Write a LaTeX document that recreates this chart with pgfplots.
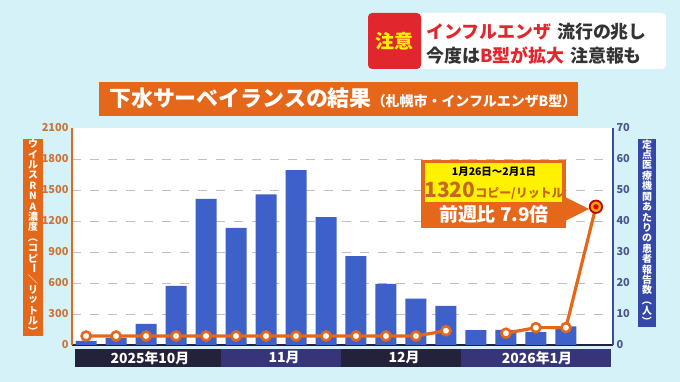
\documentclass[border=0pt]{standalone}
\usepackage{fontspec}
\setmainfont{Noto Sans CJK JP}
\usepackage{graphicx}
\usepackage{pgfplots}
\pgfplotsset{compat=1.18}
\definecolor{bg}{HTML}{D6F2F9}
\definecolor{barblue}{HTML}{3E61C9}
\definecolor{ora}{HTML}{E5671A}
\definecolor{oratick}{HTML}{CC7436}
\definecolor{navy}{HTML}{3A4A9E}
\definecolor{navytick}{HTML}{4D5590}
\definecolor{banddark}{HTML}{22223A}
\definecolor{bandpur}{HTML}{36357A}
\definecolor{hred}{HTML}{E2262D}
\definecolor{hyel}{HTML}{FFF100}
\definecolor{cyel}{HTML}{FFF200}
\definecolor{cbrown}{HTML}{C8651E}
\definecolor{navylab}{HTML}{3548A8}
\newcommand\vc[1]{\hbox to 16bp{\hss\vbox to 10.4bp{\vss\hbox{#1}\vss}\hss}}
\newcommand\rc[1]{\rotatebox[origin=c]{-90}{#1}}
\begin{document}
\begin{tikzpicture}
\fill[bg] (0,0) rectangle (680bp,382bp);
% header
\fill[white, rounded corners=4bp] (368bp,313bp) rectangle (666bp,369bp);
\fill[hred, rounded corners=4bp] (368bp,313bp) rectangle (421bp,369bp);
\node[text=hyel, font=\bfseries\fontsize{19}{19}\selectfont, inner sep=0] at (394.5bp,341bp) {注意};
\node[anchor=base west, font=\bfseries\fontsize{18}{18}\selectfont, inner sep=0] at (426bp,343bp) {\textcolor{hred}{インフルエンザ}\hspace{6bp}\textcolor{black!80}{流行の兆し}};
\node[anchor=base west, font=\bfseries\fontsize{18}{18}\selectfont, inner sep=0] at (426bp,319bp) {\textcolor{black!80}{今度は}\textcolor{hred}{B型が拡大}\hspace{6bp}\textcolor{black!80}{注意報も}};
% title
\fill[ora] (99bp,266bp) rectangle (578bp,300bp);
\node[anchor=base west, text=white, font=\bfseries, inner sep=0] at (109bp,275bp) {\fontsize{22}{22}\selectfont 下水サーベイランスの結果\fontsize{14}{14}\selectfont （札幌市・インフルエンザB型）};
% y labels
\fill[ora] (23bp,46bp) rectangle (43bp,243bp);
\node[text=white, font=\bfseries\fontsize{10}{10}\selectfont, inner sep=0] at (33bp,144.5bp) {\vbox{\offinterlineskip
\vc{ウ}\vc{イ}\vc{ル}\vc{ス}\vc{R}\vc{N}\vc{A}\vc{濃}\vc{度}\vc{\rc{（}}\vc{コ}\vc{ピ}\vc{\rc{ー}}\vc{\rc{／}}\vc{リ}\vc{ッ}\vc{ト}\vc{ル}\vc{\rc{）}}}};
\fill[navylab] (638bp,55bp) rectangle (656bp,243bp);
\node[text=white, font=\bfseries\fontsize{10}{10}\selectfont, inner sep=0] at (647bp,149bp) {\vbox{\offinterlineskip
\vc{定}\vc{点}\vc{医}\vc{療}\vc{機}\vc{関}\vc{あ}\vc{た}\vc{り}\vc{の}\vc{患}\vc{者}\vc{報}\vc{告}\vc{数}\vc{\rc{（}}\vc{人}\vc{\rc{）}}}};
% month band
\fill[banddark] (75bp,15bp) rectangle (221bp,33bp);
\fill[bandpur] (221bp,15bp) rectangle (341bp,33bp);
\fill[banddark] (341bp,15bp) rectangle (461bp,33bp);
\fill[bandpur] (461bp,15bp) rectangle (611bp,33bp);
\foreach \xx/\tt in {150/2025年10月, 284/11月, 404/12月, 537/2026年1月}
  \node[text=white, font=\bfseries\fontsize{14}{14}\selectfont, inner sep=0] at (\xx bp,24bp) {\tt};
\begin{axis}[
  at={(72bp,37bp)}, anchor=south west, scale only axis,
  width=541bp, height=217bp,
  xmin=-0.47, xmax=17.57, ymin=0, ymax=2100,
  axis background/.style={fill=white},
  axis x line*=bottom, axis y line*=left,
  x axis line style={draw=banddark, line width=2bp, -},
  y axis line style={draw=ora, line width=2.5bp, -},
  xtick=\empty,
  ytick={300,600,...,1800},
  extra y ticks={0,2100},
  extra y tick style={grid=none},
  tick style={draw=none},
  ymajorgrids,
  grid style={draw=gray!50, dash pattern=on 9bp off 9bp, line width=0.9bp},
  yticklabel style={text=oratick, font=\bfseries\fontsize{11}{11}\selectfont},
  /pgf/number format/assume math mode=true,
  /pgf/number format/1000 sep={},
]
\addplot[ybar, bar width=21bp, fill=barblue, draw=none] coordinates {
(0,40)(1,70)(2,205)(3,573)(4,1413)(5,1133)(6,1458)(7,1692)(8,1237)
(9,859)(10,592)(11,449)(12,378)(13,143)(14,146)(15,125)(16,180)};
\end{axis}
\begin{axis}[
  at={(72bp,37bp)}, anchor=south west, scale only axis,
  width=541bp, height=217bp,
  xmin=-0.47, xmax=17.57, ymin=0, ymax=70,
  axis y line*=right, axis x line=none,
  y axis line style={draw=navy, line width=2.5bp, -},
  ytick={0,10,...,70},
  tick style={draw=none},
  yticklabel style={text=navytick, font=\bfseries\fontsize{11}{11}\selectfont},
  /pgf/number format/assume math mode=true,
  clip=false,
]
\addplot[ora, line width=3.2bp, mark=*, mark size=4.5bp, unbounded coords=jump,
  mark options={fill=white, draw=ora, line width=2.6bp}] coordinates {
(0,2.9)(1,2.9)(2,2.9)(3,2.9)(4,2.9)(5,2.9)(6,2.9)(7,2.9)(8,2.9)(9,2.9)(10,2.9)(11,2.9)(12,4.6)
(13,nan)(14,3.8)(15,5.6)(16,5.6)(17,44.6)};
\addplot[only marks, mark=*, mark size=6.2bp, mark options={fill=orange!70!yellow, draw=red!75!black, line width=1.8bp}] coordinates {(17,44.6)};
\addplot[only marks, mark=*, mark size=2.4bp, mark options={fill=red!85!black, draw=red!85!black}] coordinates {(17,44.6)};
\end{axis}
% callout
\fill[ora] (421bp,154bp) rectangle (566bp,222bp);
\fill[ora] (565bp,185bp) -- (589bp,173bp) -- (565bp,161bp) -- cycle;
\fill[cyel] (425bp,180bp) rectangle (562bp,219bp);
\node[font=\bfseries\fontsize{10.5}{10.5}\selectfont, inner sep=0] at (494bp,210bp) {1月26日～2月1日};
\node[anchor=base, text=cbrown, font=\bfseries, inner sep=0] at (494bp,184bp) {\fontsize{21}{21}\selectfont 1320\fontsize{12}{12}\selectfont コピー/リットル};
\node[text=white, font=\bfseries\fontsize{19}{19}\selectfont, inner sep=0] at (494bp,168bp) {前週比 7.9倍};
\end{tikzpicture}
\end{document}
